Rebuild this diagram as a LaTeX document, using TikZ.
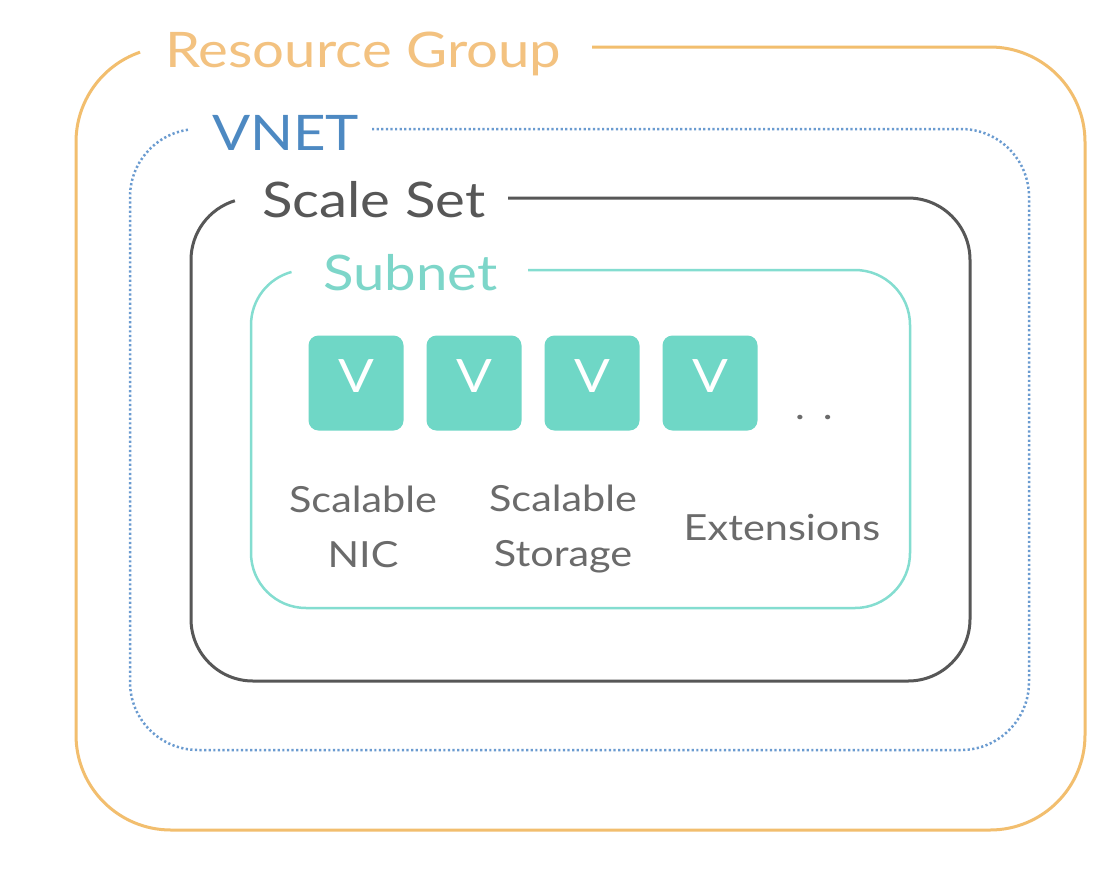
\documentclass[tikz,border=0pt]{standalone}
\usepackage{fontspec}
\setmainfont{Lato}[FakeStretch=1.15]
\definecolor{rgline}{HTML}{F2BE6E}
\definecolor{rgtext}{HTML}{F3C280}
\definecolor{vnline}{HTML}{6A9BD0}
\definecolor{vntext}{HTML}{4D89C2}
\definecolor{ssgray}{HTML}{575757}
\definecolor{snline}{HTML}{84DDD0}
\definecolor{sntext}{HTML}{7DD6C9}
\definecolor{vfill}{HTML}{6FD7C6}
\definecolor{lblgray}{HTML}{6B6B6B}
\tikzset{
  title/.style={anchor=base west, inner sep=0pt, font=\fontsize{49}{55}\selectfont},
  vbox/.style={fill=vfill, rounded corners=10pt, minimum width=95pt, minimum height=95pt,
    inner sep=0pt, text=white, text depth=14pt, font=\fontsize{46}{46}\selectfont},
  lbl/.style={inner sep=0pt, text=lblgray, align=center, font=\fontsize{36}{55}\selectfont},
}
\begin{document}
\begin{tikzpicture}[x=1pt,y=-1pt]
\useasboundingbox[fill=white] (0,0) rectangle (1116,868);
% Resource Group frame
\draw[rgline, line width=3pt]
  (592,47) -- (990,47) arc[start angle=-90,end angle=0,radius=95]
  -- (1085,735) arc[start angle=0,end angle=90,radius=95]
  -- (171,830) arc[start angle=90,end angle=180,radius=95]
  -- (76,142) arc[start angle=180,end angle=251,radius=95];
\node[title, text=rgtext] (rg) at (165,67) {Resource Group};
% VNET frame
\draw[vnline, line width=2.5pt, dash pattern=on 2.2pt off 2.4pt]
  (372,129) -- (961,129) arc[start angle=-90,end angle=0,radius=68]
  -- (1029,682) arc[start angle=0,end angle=90,radius=68]
  -- (198,750) arc[start angle=90,end angle=180,radius=68]
  -- (130,197) arc[start angle=180,end angle=261.5,radius=68];
\node[title, text=vntext] (vnet) at (212,150) {VNET};
% Scale Set frame
\draw[ssgray, line width=3pt]
  (508,198) -- (908,198) arc[start angle=-90,end angle=0,radius=62]
  -- (970,619) arc[start angle=0,end angle=90,radius=62]
  -- (253,681) arc[start angle=90,end angle=180,radius=62]
  -- (191,260) arc[start angle=180,end angle=253,radius=62];
\node[title, text=ssgray] (ss) at (262,217) {Scale Set};
% Subnet frame
\draw[snline, line width=2.5pt]
  (528,270) -- (855,270) arc[start angle=-90,end angle=0,radius=55]
  -- (910,553) arc[start angle=0,end angle=90,radius=55]
  -- (306,608) arc[start angle=90,end angle=180,radius=55]
  -- (251,325) arc[start angle=180,end angle=254.7,radius=55];
\node[title, text=sntext] (subnet) at (323,290) {Subnet};
% VMs
\node[vbox] (v1) at (356,383) {V};
\node[vbox] (v2) at (474,383) {V};
\node[vbox] (v3) at (592,383) {V};
\node[vbox] (v4) at (710,383) {V};
\node[lbl, anchor=base] (dots) at (814,419) {.\hspace{18pt}.};
% labels
\node[lbl, anchor=north] (nic) at (363,486) {Scalable\\NIC};
\node[lbl, anchor=north] (storage) at (563,485) {Scalable\\Storage};
\node[lbl, anchor=base] (ext) at (782,540) {Extensions};
\end{tikzpicture}
\end{document}
